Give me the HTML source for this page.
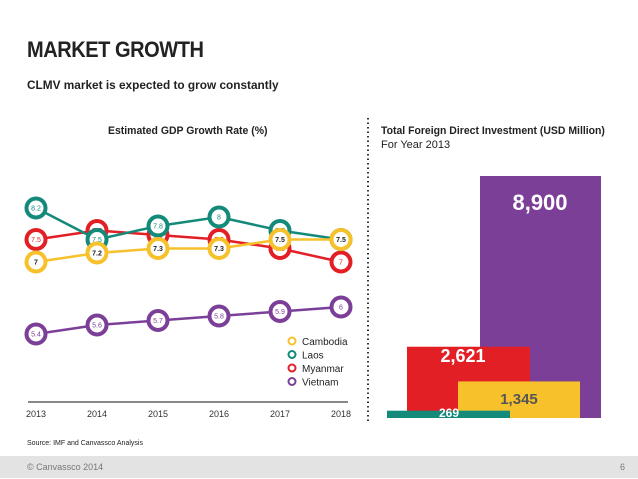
<!DOCTYPE html>
<html><head><meta charset="utf-8"><style>
body{margin:0;width:638px;height:479px;background:#fff;font-family:"Liberation Sans",sans-serif;overflow:hidden;position:relative}
.a{position:absolute;white-space:nowrap}
.n{transform-origin:0 0}
</style></head><body>
<div class="a n" style="left:27px;top:37px;font-size:22px;font-weight:bold;color:#222;letter-spacing:-0.5px;transform:scaleX(0.91)">MARKET GROWTH</div>
<div class="a n" style="left:27px;top:78px;font-size:12px;font-weight:bold;color:#222;transform:scaleX(0.985)">CLMV market is expected to grow constantly</div>
<div class="a n" style="left:108px;top:125px;font-size:11px;font-weight:bold;color:#222;transform:scaleX(0.95)">Estimated GDP Growth Rate (%)</div>
<div class="a n" style="left:381px;top:125px;font-size:11px;font-weight:bold;color:#222;transform:scaleX(0.95)">Total Foreign Direct Investment (USD Million)</div>
<div class="a" style="left:381px;top:139px;font-size:11px;color:#222">For Year 2013</div>
<div class="a" style="left:27px;top:440px;font-size:7px;color:#222">Source: IMF and Canvassco Analysis</div>
<div class="a" style="left:0;top:456px;width:638px;height:22px;background:#e3e3e3"></div>
<div class="a" style="left:27px;top:462px;font-size:9px;color:#777">© Canvassco 2014</div>
<div class="a" style="left:620px;top:462px;font-size:9px;color:#777">6</div>
<svg class="a" style="left:0;top:0" width="638" height="479" id="svg"></svg>
<script>
const years=["2013","2014","2015","2016","2017","2018"];
const cambodia=[7,7.2,7.3,7.3,7.5,7.5];
const laos=[8.2,7.5,7.8,8,7.7,7.5];
const myanmar=[7.5,7.7,7.6,7.5,7.3,7];
const vietnam=[5.4,5.6,5.7,5.8,5.9,6];
const fdiLabels=["Laos","Myanmar","Cambodia","Vietnam"];
const fdiValues=[269,2621,1345,8900];
const fdiText=["269","2,621","1,345","8,900"];
const NS="http://www.w3.org/2000/svg";
const svg=document.getElementById('svg');
function mk(t,a,p){const e=document.createElementNS(NS,t);for(const k in a)e.setAttribute(k,a[k]);(p||svg).appendChild(e);return e;}
const xs=i=>36+i*61;
const ys=v=>262-(v-7)*45;
let ax=mk('line',{x1:28,y1:402,x2:348,y2:402,stroke:'#111','stroke-width':1});


years.forEach((y,i)=>{const t=mk('text',{x:xs(i),y:417,'font-size':9,'text-anchor':'middle',fill:'#333','font-family':'Liberation Sans'});t.textContent=y;

});
let dv=mk('line',{x1:368,y1:118,x2:368,y2:422,stroke:'#333','stroke-width':2,'stroke-dasharray':'1.5,3'});


const series=[["vietnam",vietnam,'#7b3f98','#7b3f98'],["myanmar",myanmar,'#e31f26','#e31f26'],["laos",laos,'#138a7a','#138a7a'],["cambodia",cambodia,'#f6c12a','#222']];
series.forEach(([n,d,c,tc])=>{
 const g=mk('g',{});
 
 
 mk('polyline',{points:d.map((v,i)=>xs(i)+','+ys(v)).join(' '),fill:'none',stroke:c,'stroke-width':2.5},g);
 d.forEach((v,i)=>{
  const p=mk('circle',{cx:xs(i),cy:ys(v),r:9.5,fill:'#fff',stroke:c,'stroke-width':4},g);
  
  
  const t=mk('text',{x:xs(i),y:ys(v)+2.5,'font-size':7,'text-anchor':'middle',fill:tc,'font-family':'Liberation Sans','font-weight':n=='cambodia'?'bold':'normal'},g);t.textContent=v;
 });
});
[["Cambodia",'#f6c12a'],["Laos",'#138a7a'],["Myanmar",'#e31f26'],["Vietnam",'#7b3f98']].forEach(([n,c],i)=>{
 const g=mk('g',{});
 
 
 mk('circle',{cx:292,cy:341+i*13.5,r:3.5,fill:'#fff',stroke:c,'stroke-width':2},g);
 const t=mk('text',{x:302,y:345+i*13.5,'font-size':10,fill:'#222','font-family':'Liberation Sans'},g);t.textContent=n;
});
const base=418,k=242/8900;
const bx=[[387,123],[407,123],[458,122],[480,121]];
const bc=['#138a7a','#e31f26','#f6c12a','#7b3f98'];
const order=[3,1,2,0];
order.forEach(i=>{
 const h=fdiValues[i]*k;
 const r=mk('rect',{x:bx[i][0],y:base-h,width:bx[i][1],height:h,fill:bc[i]});
 
 
});
const lbl=[[449,417,12,'#fff'],[463,362,18,'#fff'],[519,404,15,'#555'],[540,210,22,'#fff']];
order.forEach(i=>{const L=lbl[i];const t=mk('text',{x:L[0],y:L[1],'font-size':L[2],'font-weight':'bold','text-anchor':'middle',fill:L[3],'font-family':'Liberation Sans'});t.textContent=fdiText[i];

});
</script>
</body></html>
